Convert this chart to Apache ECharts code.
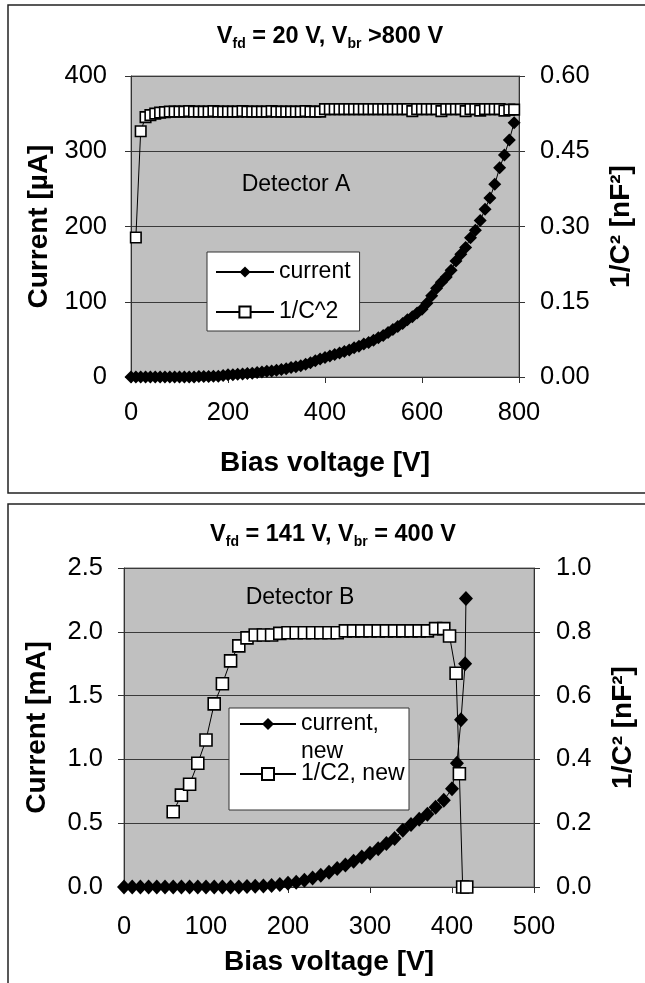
<!DOCTYPE html>
<html><head><meta charset="utf-8">
<script src="https://cdn.jsdelivr.net/npm/echarts@6/dist/echarts.min.js"></script>
<style>html,body{margin:0;padding:0;background:#fff}#c{width:645px;height:983px}</style>
</head><body><div id="c"></div>
<script>
// ---------- Detector A ----------
const voltA = [0,10,20,30,40,50,60,70,80,90,100,110,120,130,140,150,160,170,180,190,
  200,210,220,230,240,250,260,270,280,290,300,310,320,330,340,350,360,370,380,390,
  400,410,420,430,440,450,460,470,480,490,500,510,520,530,540,550,560,570,580,590,
  600,610,620,630,640,650,660,670,680,690,700,710,720,730,740,750,760,770,780,790];
const currentA = [0,0,0,0,0,0,0,0,0,0,0,0,0,0,0.5,0.5,0.5,1,1,2,
  3,3,3.5,4,4.5,5,6,6.5,7.5,8,9,10,11,12.5,13.5,15,17,19,21.5,24,
  26,28,30,32,34,36,39,41,44,46,49,52,55,59,63,67,71,76,80,85,
  90,98,108,118,126,133,142,154,163,172,185,195,208,223,238,256,278,295,315,338];
const invC2A = [null,0.278,0.490,0.518,0.522,0.525,0.527,0.528,0.529,0.529,0.529,0.529,0.530,0.529,0.529,0.529,0.529,0.530,0.529,0.529,
  0.529,0.529,0.529,0.530,0.529,0.529,0.529,0.529,0.529,0.530,0.529,0.529,0.529,0.529,0.529,0.529,0.530,0.529,0.529,0.529,
  0.534,0.534,0.534,0.534,0.534,0.534,0.534,0.534,0.534,0.534,0.534,0.534,0.534,0.534,0.534,0.534,0.534,0.534,0.530,0.534,
  0.534,0.534,0.534,0.534,0.530,0.534,0.534,0.534,0.534,0.530,0.534,0.534,0.531,0.534,0.534,0.534,0.534,0.531,0.533,0.533];

// ---------- Detector B ----------
const voltB_I = [0,10,20,30,40,50,60,70,80,90,100,110,120,130,140,150,160,170,180,190,
  200,210,220,230,240,250,260,270,280,290,300,310,320,330,340,350,360,370,380,390,400,406,411,416,417];
const currentB = [0,0,0,0,0,0,0,0,0,0,0,0,0,0,0,0.003,0.005,0.008,0.012,0.02,
  0.03,0.038,0.052,0.07,0.092,0.115,0.145,0.172,0.202,0.235,0.265,0.3,0.34,0.38,0.445,0.49,0.53,0.57,0.625,0.68,0.77,0.97,1.31,1.75,2.26];
const voltB_C = [60,70,80,90,100,110,120,130,140,150,160,170,180,190,200,210,220,230,240,250,
  260,270,280,290,300,310,320,330,340,350,360,370,380,390,397,405,409,413,418];
const invC2B = [0.236,0.288,0.322,0.388,0.461,0.574,0.637,0.709,0.756,0.781,0.790,0.790,0.790,0.795,0.797,0.797,0.797,0.797,0.797,0.797,
  0.797,0.803,0.803,0.803,0.803,0.803,0.803,0.803,0.803,0.803,0.803,0.803,0.810,0.810,0.787,0.670,0.355,0,0];

// axis ticks
const xTicksA = {min:0, max:800, interval:200};
const yTicksA = {min:0, max:400, interval:100};
const y2TicksA = {min:0, max:0.6, interval:0.15};
const xTicksB = {min:0, max:500, interval:100};
const yTicksB = {min:0, max:2.5, interval:0.5};
const y2TicksB = {min:0, max:1.0, interval:0.2};

const FONT = '"Liberation Sans", Arial, sans-serif';
const pairs = (xs, ys) => xs.map((x, i) => [x, ys[i]]).filter(p => p[1] !== null);

const chart = echarts.init(document.getElementById('c'), null, {renderer: 'canvas'});

const nameStyle = {fontSize: 28, fontWeight: 'bold', color: '#000', fontFamily: FONT};
const labelStyle = (m, fmt) => ({margin: m, fontSize: 25.5, color: '#000', fontFamily: FONT, formatter: fmt});
const axLine = {show: true, onZero: false, lineStyle: {color: '#333', width: 1}};
const axTick = {show: true, length: 6, lineStyle: {color: '#333'}};
const split = {show: true, lineStyle: {color: '#3a3a3a', width: 1}};

const curStyle = (size) => ({
  type: 'line', symbol: 'diamond', symbolSize: size,
  lineStyle: {color: '#000', width: 1}, itemStyle: {color: '#000'},
  animation: false
});
const invStyle = (size) => ({
  type: 'line', symbol: 'rect', symbolSize: size,
  lineStyle: {color: '#000', width: 1}, itemStyle: {color: '#fff', borderColor: '#000', borderWidth: 1.6},
  animation: false
});

const titleRich = {
  v: {fontSize: 23.5, fontWeight: 'bold', fontFamily: FONT, color: '#000', lineHeight: 28},
  s: {fontSize: 14, fontWeight: 'bold', fontFamily: FONT, color: '#000', lineHeight: 14, verticalAlign: 'bottom'}
};

const option = {
  animation: false,
  backgroundColor: '#fff',
  textStyle: {fontFamily: FONT},
  grid: [
    {left: 131, top: 76, width: 388, height: 301, show: true, backgroundColor: '#c0c0c0', borderColor: '#666', borderWidth: 1},
    {left: 124, top: 568, width: 418, height: 319, show: true, backgroundColor: '#c0c0c0', borderColor: '#666', borderWidth: 1}
  ],
  xAxis: [
    Object.assign({gridIndex: 0, type: 'value', axisLine: axLine, axisTick: axTick, splitLine: {show: false},
      axisLabel: labelStyle(23), name: 'Bias voltage [V]', nameLocation: 'middle', nameGap: 72, nameTextStyle: nameStyle}, xTicksA),
    Object.assign({gridIndex: 1, type: 'value', axisLine: axLine, axisTick: axTick, splitLine: {show: false},
      axisLabel: labelStyle(27), name: 'Bias voltage [V]', nameLocation: 'middle', nameGap: 61, nameTextStyle: nameStyle}, xTicksB)
  ],
  yAxis: [
    Object.assign({gridIndex: 0, type: 'value', position: 'left', axisLine: axLine, axisTick: axTick, splitLine: split,
      axisLabel: labelStyle(24), name: 'Current [µA]', nameLocation: 'middle', nameGap: 78, nameTextStyle: nameStyle}, yTicksA),
    Object.assign({gridIndex: 0, type: 'value', position: 'right', axisLine: axLine, axisTick: axTick, splitLine: {show: false},
      axisLabel: labelStyle(21, v => v.toFixed(2)), name: '1/C² [nF²]', nameLocation: 'middle', nameGap: 88, nameTextStyle: nameStyle}, y2TicksA),
    Object.assign({gridIndex: 1, type: 'value', position: 'left', axisLine: axLine, axisTick: axTick, splitLine: split,
      axisLabel: labelStyle(21, v => v.toFixed(1)), name: 'Current [mA]', nameLocation: 'middle', nameGap: 73, nameTextStyle: nameStyle}, yTicksB),
    Object.assign({gridIndex: 1, type: 'value', position: 'right', axisLine: axLine, axisTick: axTick, splitLine: {show: false},
      axisLabel: labelStyle(22, v => v.toFixed(1)), name: '1/C² [nF²]', nameLocation: 'middle', nameGap: 75, nameTextStyle: nameStyle}, y2TicksB)
  ],
  legend: [
    {data: ['current', '1/C^2'], orient: 'vertical', left: 207, top: 252, itemWidth: 58, itemHeight: 14, itemGap: 16,
      padding: [8, 9, 7, 8], backgroundColor: '#fff', borderColor: '#333', borderWidth: 1,
      textStyle: {fontSize: 23, lineHeight: 24, color: '#000', fontFamily: FONT}},
    {data: ['current, new'], orient: 'vertical', left: 239, top: 682, itemWidth: 56, itemHeight: 15, padding: 0,
      formatter: () => '\u00a0\ncurrent,\nnew',
      textStyle: {fontSize: 23, lineHeight: 28, color: '#000', fontFamily: FONT}},
    {data: ['1/C2, new'], orient: 'vertical', left: 239, top: 760, itemWidth: 56, itemHeight: 15, padding: 0,
      textStyle: {fontSize: 23, lineHeight: 28, color: '#000', fontFamily: FONT}}
  ],
  graphic: [
    {type: 'rect', z: 0, silent: true, shape: {x: 8, y: 5, width: 660, height: 488}, style: {fill: 'none', stroke: '#222', lineWidth: 1.5}},
    {type: 'rect', z: 0, silent: true, shape: {x: 8, y: 504, width: 660, height: 520}, style: {fill: 'none', stroke: '#222', lineWidth: 1.5}},
    {type: 'text', x: 330, y: 37, silent: true, style: {text: '{v|V}{s|fd}{v| = 20 V, V}{s|br}{v| >800 V}', align: 'center', verticalAlign: 'middle', rich: titleRich}},
    {type: 'text', x: 333, y: 535, silent: true, style: {text: '{v|V}{s|fd}{v| = 141 V, V}{s|br}{v| = 400 V}', align: 'center', verticalAlign: 'middle', rich: titleRich}},
    {type: 'text', x: 296, y: 185, z: 3, silent: true, style: {text: 'Detector A', align: 'center', verticalAlign: 'middle', fontSize: 23, fontFamily: FONT, fill: '#000'}},
    {type: 'text', x: 300, y: 598, z: 3, silent: true, style: {text: 'Detector B', align: 'center', verticalAlign: 'middle', fontSize: 23, fontFamily: FONT, fill: '#000'}},
    {type: 'rect', z: 3, silent: true, shape: {x: 229, y: 708, width: 180, height: 102}, style: {fill: '#fff', stroke: '#333', lineWidth: 1}}
  ],
  series: [
    Object.assign(curStyle([13, 13]), {name: 'current', xAxisIndex: 0, yAxisIndex: 0, data: pairs(voltA, currentA)}),
    Object.assign(invStyle(10.5), {name: '1/C^2', xAxisIndex: 0, yAxisIndex: 1, data: pairs(voltA, invC2A)}),
    Object.assign(curStyle([14, 15]), {name: 'current, new', xAxisIndex: 1, yAxisIndex: 2, data: pairs(voltB_I, currentB)}),
    Object.assign(invStyle(12), {name: '1/C2, new', xAxisIndex: 1, yAxisIndex: 3, data: pairs(voltB_C, invC2B)})
  ]
};
chart.setOption(option);
</script>
</body></html>
